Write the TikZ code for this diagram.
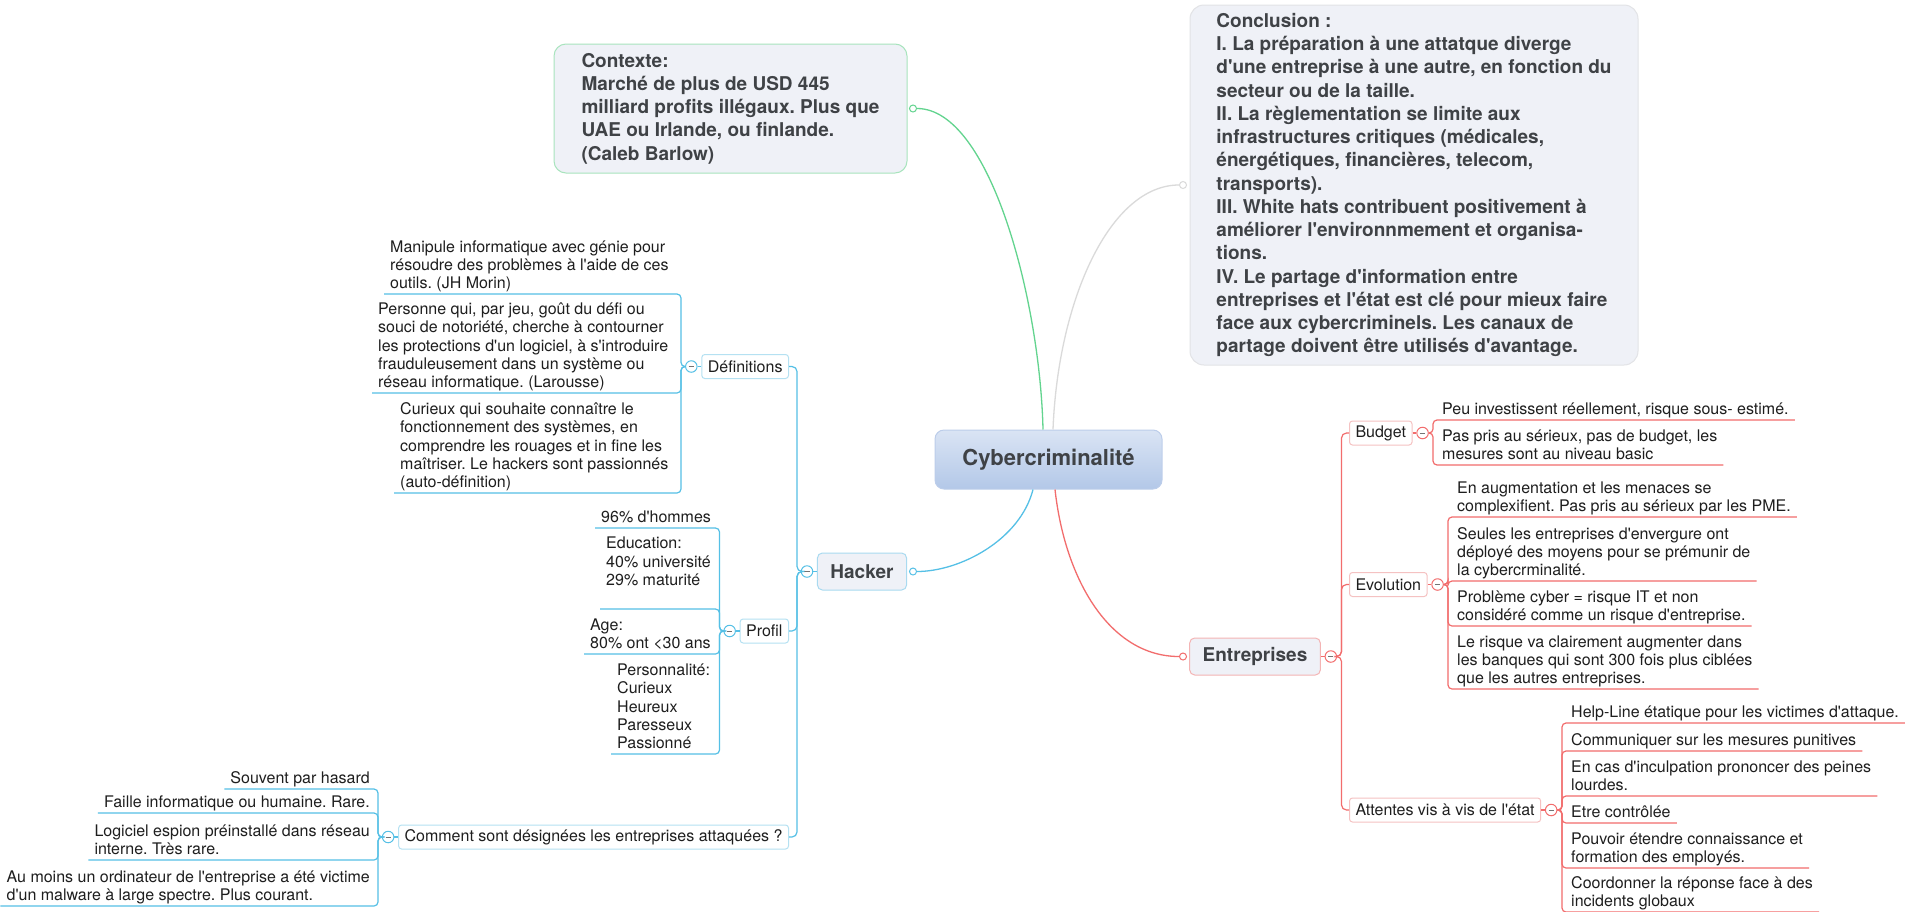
\documentclass[tikz,border=0pt]{standalone}
\usepackage{fontspec}
\setmainfont{TeX Gyre Heros}[Ligatures=TeXOff]
\usetikzlibrary{calc}
\definecolor{bluel}{HTML}{55C0E6}
\definecolor{blueb}{HTML}{A9DAF0}
\definecolor{blues}{HTML}{B5E1F2}
\definecolor{redl}{HTML}{F26D6D}
\definecolor{redb}{HTML}{F4B4B4}
\definecolor{reds}{HTML}{F5C2C2}
\definecolor{greenl}{HTML}{63D48F}
\definecolor{greenb}{HTML}{A8E4BD}
\definecolor{greyl}{HTML}{DADADA}
\definecolor{greyb}{HTML}{E2E3E6}
\definecolor{topf}{HTML}{EFF1F7}
\definecolor{cent}{HTML}{DAE4F4}
\definecolor{cenbot}{HTML}{B3C8E8}
\definecolor{cenb}{HTML}{BCCDEA}
\definecolor{txtd}{HTML}{3F4246}
\definecolor{txt}{HTML}{1E1E1E}
\newcommand{\undr}{\rule[-5pt]{0pt}{5pt}}
\frenchspacing
\tikzset{
  ln/.style={line width=1.2pt},
  curve/.style={line width=1.3pt},
  central/.style={draw=cenb, line width=1pt, rounded corners=9pt, top color=cent, bottom color=cenbot,
    minimum width=227pt, minimum height=59pt, inner sep=0pt,
    font=\bfseries\fontsize{22}{26}\selectfont, text=txtd},
  bigbox/.style={draw=#1, fill=topf, line width=1pt, align=left, inner sep=0pt,
    font=\bfseries\fontsize{19}{23.25}\selectfont, text=txtd},
  topic/.style={draw=#1, fill=topf, line width=1pt, rounded corners=5pt, minimum height=37pt,
    inner xsep=13pt, inner ysep=0pt, font=\bfseries\fontsize{19}{23}\selectfont, text=txtd},
  sub/.style={draw=#1, fill=white, line width=1pt, rounded corners=3pt, minimum height=24pt,
    inner xsep=6pt, inner ysep=0pt, font=\fontsize{16}{19}\selectfont, text=txt},
  leaf/.style={inner xsep=6pt, inner ysep=0pt, align=left, font=\fontsize{16}{18.3}\selectfont, text=txt},
  ocirc/.style={circle, draw=#1, fill=white, line width=1pt, minimum size=7pt, inner sep=0pt},
  mcirc/.style={circle, draw=#1, fill=white, line width=1pt, minimum size=11.5pt, inner sep=0pt,
    path picture={\draw[black!55, line width=1pt] ([xshift=-2.6pt]path picture bounding box.center) -- ([xshift=2.6pt]path picture bounding box.center);}},
}
\begin{document}
\begin{tikzpicture}[x=1pt,y=-1pt]
\useasboundingbox (0,0) rectangle (1905,911);
\fill[white] (0,0) rectangle (1905,911);

% ---------- central topic ----------
\node[central] (c) at (1048.5,459.5) {Cybercriminalité};

% ---------- Contexte ----------
\node[bigbox=greenb, rounded corners=12pt, minimum width=353pt, minimum height=129pt] (ctx) at (730.5,108.5)
  {Contexte:\\Marché de plus de USD 445\\milliard profits illégaux. Plus que\\UAE ou Irlande, ou finlande.\\(Caleb Barlow)};
\node[ocirc=greenl] (octx) at (913,108.5) {};
\draw[greenl,curve] ([xshift=-5.5pt]c.north) .. controls (1040,300) and (990,108.5) .. (octx.east);

% ---------- Conclusion ----------
\node[bigbox=greyb, rounded corners=14pt, minimum width=448pt, minimum height=360pt] (con) at (1414,185)
  {Conclusion :\\I. La préparation à une attatque diverge\\d'une entreprise à une autre, en fonction du\\secteur ou de la taille.\\II. La règlementation se limite aux\\infrastructures critiques (médicales,\\énergétiques, financières, telecom,\\transports).\\III. White hats contribuent positivement à\\améliorer l'environnmement et organisa-\\tions.\\IV. Le partage d'information entre\\entreprises et l'état est clé pour mieux faire\\face aux cybercriminels. Les canaux de\\partage doivent être utilisés d'avantage.};
\node[ocirc=greyl] (ocon) at (1183,185) {};
\draw[greyl,curve] ([xshift=4.5pt]c.north) .. controls (1058,300) and (1110,185) .. (ocon.west);

% ---------- Hacker ----------
\node[topic=blueb] (hk) at (862,571.5) {Hacker};
\node[ocirc=bluel] (ohk) at (913,571.5) {};
\draw[bluel,curve] ([xshift=-15.5pt]c.south) .. controls (1020,540) and (960,571.5) .. (ohk.east);
\node[mcirc=bluel] (hm) at (807,571.5) {};
\draw[bluel,ln] (hk.west) -- (hm.east);

\node[sub=blues, anchor=east] (def) at (789,366.5) {Définitions};
\node[sub=blues, anchor=east] (pro) at (789,631) {Profil};
\node[sub=blues, anchor=east] (com) at (789,837) {Comment sont désignées les entreprises attaquées ?};
\draw[bluel,ln,rounded corners=5pt] (hm.west) -- (797,571.5) -- (797,366.5) -- (def.east);
\draw[bluel,ln,rounded corners=5pt] (hm.west) -- (797,571.5) -- (797,631) -- (pro.east);
\draw[bluel,ln,rounded corners=5pt] (hm.west) -- (797,571.5) -- (797,837) -- (com.east);

% Définitions
\node[mcirc=bluel] (dm) at ($(def.west)+(-10,0)$) {};
\draw[bluel,ln] (def.west) -- (dm.east);
\node[leaf, anchor=south west] (d1) at (384,294) {Manipule informatique avec génie pour\\résoudre des problèmes à l'aide de ces\\outils. (JH Morin)\undr};
\node[leaf, anchor=south west] (d2) at (372,393) {Personne qui, par jeu, goût du défi ou\\souci de notoriété, cherche à contourner\\les protections d'un logiciel, à s'introduire\\frauduleusement dans un système ou\\réseau informatique. (Larousse)\undr};
\node[leaf, anchor=south west] (d3) at (394,493) {Curieux qui souhaite connaître le\\fonctionnement des systèmes, en\\comprendre les rouages et in fine les\\maîtriser. Le hackers sont passionnés\\(auto-définition)\undr};
\foreach \n/\y in {d1/294,d2/393,d3/493}
  \draw[bluel,ln,rounded corners=4pt] (dm.west) -- (681,366.5) -- (681,\y) -- (\n.south west);

% Profil
\node[mcirc=bluel] (pm) at ($(pro.west)+(-10,0)$) {};
\draw[bluel,ln] (pro.west) -- (pm.east);
\node[leaf, anchor=south west] (p1) at (595,528) {96\% d'hommes\undr};
\node[leaf, anchor=south west] (p2) at (600,609) {Education:\\40\% université\\29\% maturité\\\undr};
\node[leaf, anchor=south west] (p3) at (584,654) {Age:\\80\% ont <30 ans\undr};
\node[leaf, anchor=south west] (p4) at (611,754) {Personnalité:\\Curieux\\Heureux\\Paresseux\\Passionné\undr};
\foreach \n/\y in {p1/528,p2/609,p3/654,p4/754}
  \draw[bluel,ln,rounded corners=4pt] (pm.west) -- (719.5,631) -- (719.5,\y) -- (\n.south west);

% Comment
\node[mcirc=bluel] (cm) at ($(com.west)+(-10,0)$) {};
\draw[bluel,ln] (com.west) -- (cm.east);
\node[leaf, anchor=south east] (c1) at (376,789) {Souvent par hasard\undr};
\node[leaf, anchor=south east] (c2) at (376,813) {Faille informatique ou humaine. Rare.\undr};
\node[leaf, anchor=south east] (c3) at (376,860) {Logiciel espion préinstallé dans réseau\\interne. Très rare.\undr};
\node[leaf, anchor=south east] (c4) at (376,906) {Au moins un ordinateur de l'entreprise a été victime\\d'un malware à large spectre. Plus courant.\undr};
\foreach \n/\y in {c1/789,c2/813,c3/860,c4/906}
  \draw[bluel,ln,rounded corners=4pt] (cm.west) -- (378,837) -- (378,\y) -- (\n.south west);

% ---------- Entreprises ----------
\node[topic=redb] (en) at (1255,656.5) {Entreprises};
\node[ocirc=redl] (oen) at (1183,656.5) {};
\draw[redl,curve] ([xshift=6.5pt]c.south) .. controls (1065,580) and (1110,656.5) .. (oen.west);
\node[mcirc=redl] (em) at ($(en.east)+(10,0)$) {};
\draw[redl,ln] (en.east) -- (em.west);

\node[sub=reds, anchor=west] (bud) at (1349,433) {Budget};
\node[sub=reds, anchor=west] (evo) at (1349,584.5) {Evolution};
\node[sub=reds, anchor=west] (att) at (1349,810) {Attentes vis à vis de l'état};
\draw[redl,ln,rounded corners=5pt] (em.east) -- (1341.5,656.5) -- (1341.5,433) -- (bud.west);
\draw[redl,ln,rounded corners=5pt] (em.east) -- (1341.5,656.5) -- (1341.5,584.5) -- (evo.west);
\draw[redl,ln,rounded corners=5pt] (em.east) -- (1341.5,656.5) -- (1341.5,810) -- (att.west);

% Budget
\node[mcirc=redl] (bm) at ($(bud.east)+(10,0)$) {};
\draw[redl,ln] (bud.east) -- (bm.west);
\node[leaf, anchor=south west] (b1) at (1436,420) {Peu investissent réellement, risque sous- estimé.\undr};
\node[leaf, anchor=south west] (b2) at (1436,465) {Pas pris au sérieux, pas de budget, les\\mesures sont au niveau basic\undr};
\foreach \n/\y in {b1/420,b2/465}
  \draw[redl,ln,rounded corners=4pt] (bm.east) -- (1433,433) -- (1433,\y) -- (\n.south east);

% Evolution
\node[mcirc=redl] (vm) at ($(evo.east)+(10,0)$) {};
\draw[redl,ln] (evo.east) -- (vm.west);
\node[leaf, anchor=south west] (e1) at (1451,517) {En augmentation et les menaces se\\complexifient. Pas pris au sérieux par les PME.\undr};
\node[leaf, anchor=south west] (e2) at (1451,581) {Seules les entreprises d'envergure ont\\déployé des moyens pour se prémunir de\\la cybercrminalité.\undr};
\node[leaf, anchor=south west] (e3) at (1451,626) {Problème cyber = risque IT et non\\considéré comme un risque d'entreprise.\undr};
\node[leaf, anchor=south west] (e4) at (1451,689) {Le risque va clairement augmenter dans\\les banques qui sont 300 fois plus ciblées\\que les autres entreprises.\undr};
\foreach \n/\y in {e1/517,e2/581,e3/626,e4/689}
  \draw[redl,ln,rounded corners=4pt] (vm.east) -- (1448,584.5) -- (1448,\y) -- (\n.south east);

% Attentes
\node[mcirc=redl] (am) at ($(att.east)+(10,0)$) {};
\draw[redl,ln] (att.east) -- (am.west);
\node[leaf, anchor=south west] (a1) at (1565,723) {Help-Line étatique pour les victimes d'attaque.\undr};
\node[leaf, anchor=south west] (a2) at (1565,751) {Communiquer sur les mesures punitives\undr};
\node[leaf, anchor=south west] (a3) at (1565,796) {En cas d'inculpation prononcer des peines\\lourdes.\undr};
\node[leaf, anchor=south west] (a4) at (1565,823) {Etre contrôlée\undr};
\node[leaf, anchor=south west] (a5) at (1565,868) {Pouvoir étendre connaissance et\\formation des employés.\undr};
\node[leaf, anchor=south west] (a6) at (1565,912) {Coordonner la réponse face à des\\incidents globaux\undr};
\foreach \n/\y in {a1/723,a2/751,a3/796,a4/823,a5/868,a6/912}
  \draw[redl,ln,rounded corners=4pt] (am.east) -- (1562,810) -- (1562,\y) -- (\n.south east);
\end{tikzpicture}
\end{document}
